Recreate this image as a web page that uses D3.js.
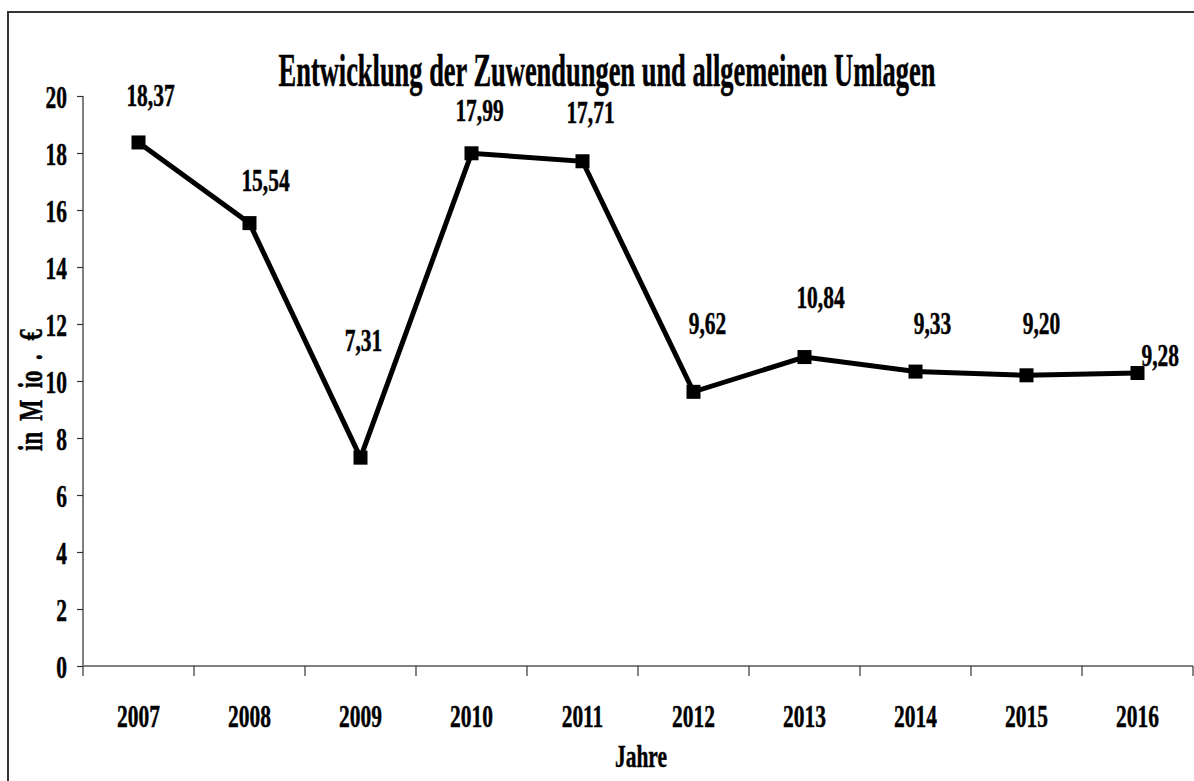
<!DOCTYPE html>
<html>
<head>
<meta charset="utf-8">
<script src="https://cdn.jsdelivr.net/npm/d3@7"></script>
<style>
html,body{margin:0;padding:0;background:#fff;}
svg{display:block;}
text{font-family:"Times New Roman","Liberation Serif",serif;font-weight:bold;fill:#000;stroke:#000;stroke-width:0.5px;}
</style>
</head>
<body>
<svg id="chart" width="1194" height="781"></svg>
<script>
const years = ["2007","2008","2009","2010","2011","2012","2013","2014","2015","2016"];
const values = [18.37, 15.54, 7.31, 17.99, 17.71, 9.62, 10.84, 10.33, 10.20, 10.28];
const valueLabels = ["18,37","15,54","7,31","17,99","17,71","9,62","10,84","9,33","9,20","9,28"];
const yTicks = [0,2,4,6,8,10,12,14,16,18,20];
const titleText = "Entwicklung der Zuwendungen und allgemeinen Umlagen";
const xTitle = "Jahre";
const yTitleParts = ["in", " M", " io", ".", " €"];

const svg = d3.select("#chart");
const W = 1194, H = 781;
const m = {left: 83, right: 1193, top: 96, bottom: 666};
const SX = 0.67; // condensed look
const FS = 32;

svg.append("rect").attr("x",0).attr("y",0).attr("width",W).attr("height",H).attr("fill","#fff");
svg.append("rect").attr("x",8).attr("y",12).attr("width",1400).attr("height",1000)
  .attr("fill","none").attr("stroke","#333").attr("stroke-width",2);

const x = d3.scaleBand().domain(years).range([m.left, m.right]);
const y = d3.scaleLinear().domain([0,20]).range([m.bottom, m.top]);

function ctext(g, str, px, py, size, anchor){
  return g.append("text")
    .attr("transform", `translate(${px},${py}) scale(${SX},1)`)
    .attr("text-anchor", anchor || "middle")
    .attr("dominant-baseline","central")
    .style("font-size", size + "px")
    .text(str);
}

// Y axis
const yAxis = d3.axisLeft(y).tickValues(yTicks).tickSize(6).tickFormat("");
const gy = svg.append("g").attr("transform",`translate(${m.left},0)`).call(yAxis);
gy.select(".domain").attr("stroke","#808080").attr("stroke-width",2).attr("d",`M0,${m.top}V${m.bottom}`);
gy.selectAll(".tick line").attr("stroke","#333").attr("stroke-width",1.2);
yTicks.forEach(t => ctext(svg, String(t), 67, y(t)+1, FS, "end"));

// X axis
const xAxis = d3.axisBottom(x).tickSize(0).tickFormat("");
const gx = svg.append("g").attr("transform",`translate(0,${m.bottom})`).call(xAxis);
gx.select(".domain").attr("stroke","#808080").attr("stroke-width",2).attr("d",`M${m.left},0H${m.right}`);
const bounds = years.map(d => x(d)).concat([x(years[years.length-1]) + x.bandwidth()]);
gx.selectAll(".bline").data(bounds).enter().append("line")
  .attr("x1",d=>d).attr("x2",d=>d).attr("y1",0).attr("y2",10)
  .attr("stroke","#333").attr("stroke-width",1.2);
years.forEach(yr => ctext(svg, yr, x(yr)+x.bandwidth()/2, 716, FS));

// Title: condensed to the reference width
const title = svg.append("text")
  .attr("text-anchor","middle")
  .style("font-size","47px")
  .text(titleText);
const tw = title.node().getComputedTextLength();
title.attr("transform", `translate(607,86) scale(${657/tw},1)`);

ctext(svg, xTitle, 641, 756, FS);

// Y title (rotated, with the reference's uneven spacing)
const yt = svg.append("text")
  .attr("transform",`translate(30,390) rotate(-90) scale(${SX},1)`)
  .attr("text-anchor","middle").attr("dominant-baseline","central")
  .attr("xml:space","preserve")
  .style("font-size", "34px");
const gapDx = [0, 8, 8, 16, 12];
yTitleParts.forEach((p,i) => yt.append("tspan").attr("dx", gapDx[i]).text(p));

// Line
const cx = d => x(d) + x.bandwidth()/2;
const line = d3.line().x((d,i)=>cx(years[i])).y(d=>y(d));
svg.append("path").datum(values).attr("d",line)
  .attr("fill","none").attr("stroke","#000").attr("stroke-width",5).attr("stroke-linejoin","miter");

svg.selectAll(".mk").data(values).enter().append("rect")
  .attr("x",(d,i)=>cx(years[i])-7).attr("y",d=>y(d)-7)
  .attr("width",14).attr("height",14).attr("fill","#000");

// Data labels (offsets relative to point)
const labDx = [12, 16, 3, 8, 8, 14, 16, 17, 15, 4];
const labDy = [-47, -43, -117, -43, -49, -68, -60, -48, -52, -18];
values.forEach((v,i) => {
  ctext(svg, valueLabels[i], cx(years[i]) + labDx[i], y(v) + labDy[i], FS, i===9 ? "start" : "middle");
});
</script>
</body>
</html>
